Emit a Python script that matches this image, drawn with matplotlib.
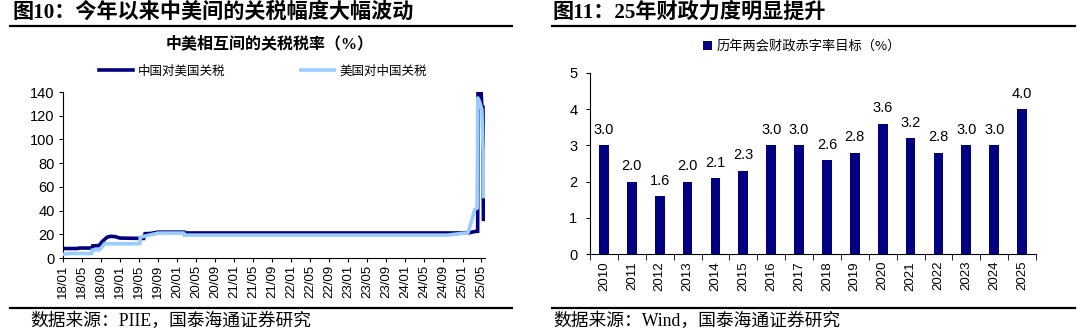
import matplotlib.pyplot as plt
import matplotlib.dates as mdates
import pandas as pd
from matplotlib.lines import Line2D

# 中国对美国关税 (dates, %)
CN_ON_US_DATES = [
    "2018-01-01", "2018-04-01", "2018-04-15", "2018-06-25", "2018-07-05",
    "2018-07-10", "2018-08-20", "2018-09-10", "2018-10-10", "2018-11-01",
    "2018-12-01", "2019-01-01", "2019-06-01", "2019-06-10", "2019-07-15",
    "2019-09-01", "2020-02-14", "2020-02-15", "2025-02-01", "2025-02-10",
    "2025-03-10", "2025-04-03", "2025-04-08", "2025-04-10", "2025-04-30",
    "2025-05-05", "2025-05-12", "2025-05-14", "2025-05-15",
]
CN_ON_US = [
    8.0, 8.0, 8.4, 8.4, 7.8,
    10.2, 10.5, 14.0, 17.5, 18.3,
    18.0, 16.8, 16.5, 20.5, 20.7,
    21.8, 21.8, 21.1, 21.1, 21.2,
    22.0, 22.6, 22.6, 140.0, 140.0,
    127.0, 127.0, 50.0, 32.6,
]

# 美国对中国关税 (dates, %)
US_ON_CN_DATES = [
    "2018-01-01", "2018-02-07", "2018-07-05", "2018-07-06", "2018-08-23",
    "2018-09-24", "2019-05-09", "2019-05-10", "2019-09-01", "2020-02-13",
    "2020-02-14", "2024-09-27", "2025-01-01", "2025-02-04", "2025-02-25",
    "2025-03-04", "2025-03-20", "2025-04-05", "2025-04-09", "2025-04-20",
    "2025-05-05", "2025-05-13", "2025-05-15",
]
US_ON_CN = [
    3.1, 3.8, 3.8, 6.7, 6.9,
    12.0, 12.0, 17.5, 21.0, 21.0,
    19.3, 19.3, 20.8, 21.0, 30.0,
    33.0, 41.0, 42.0, 135.0, 132.0,
    125.0, 90.0, 51.8,
]

# 历年两会财政赤字率目标 (%)
YEARS = [str(y) for y in range(2010, 2026)]
DEFICIT = [3.0, 2.0, 1.6, 2.0, 2.1, 2.3, 3.0, 3.0, 2.6, 2.8, 3.6, 3.2, 2.8, 3.0, 3.0, 4.0]

NAVY = "#000080"
LIGHT = "#99CCFF"
SERIF_CJK = ["Liberation Serif", "Noto Sans CJK SC"]

plt.rcParams["font.family"] = ["Liberation Sans", "Noto Sans CJK SC", "DejaVu Sans"]
plt.rcParams["axes.unicode_minus"] = False

fig = plt.figure(figsize=(10.8, 3.36), dpi=100)
W, H = 1080, 336


def fx(px):
    return px / W


def fy(py):
    return 1 - py / H


def rule(x0, x1, y):
    fig.add_artist(Line2D([fx(x0), fx(x1)], [fy(y), fy(y)], color="black", lw=1.6,
                          transform=fig.transFigure))


# panel headers and footers
fig.text(fx(12), fy(13), "图10：今年以来中美间的关税幅度大幅波动", family=SERIF_CJK,
         fontsize=15.2, fontweight="bold", va="center", ha="left")
fig.text(fx(553), fy(13), "图11：25年财政力度明显提升", family=SERIF_CJK,
         fontsize=15.2, fontweight="bold", va="center", ha="left")
rule(10, 512, 26)
rule(552, 1075, 26)
rule(10, 512, 308)
rule(552, 1075, 308)
fig.text(fx(30), fy(321), "数据来源：PIIE，国泰海通证券研究", family=SERIF_CJK,
         fontsize=12.8, va="center", ha="left")
fig.text(fx(553), fy(321), "数据来源：Wind，国泰海通证券研究", family=SERIF_CJK,
         fontsize=12.8, va="center", ha="left")

# ---- left: tariff lines ----
ax1 = fig.add_axes([fx(63), fy(258), fx(485) - fx(63), fy(92) - fy(258)])
d1 = pd.to_datetime(CN_ON_US_DATES)
d2 = pd.to_datetime(US_ON_CN_DATES)
ax1.plot(d1, CN_ON_US, color=NAVY, lw=2.6, label="中国对美国关税", zorder=2,
         solid_joinstyle="miter")
ax1.plot(d2, US_ON_CN, color=LIGHT, lw=2.6, label="美国对中国关税", zorder=3)
ax1.set_ylim(0, 140)
ax1.set_yticks(range(0, 141, 20))
ax1.set_xlim(pd.Timestamp("2018-01-01"), pd.Timestamp("2025-05-25"))
ax1.xaxis.set_major_locator(mdates.MonthLocator(bymonth=(1, 5, 9)))
ax1.xaxis.set_major_formatter(mdates.DateFormatter("%y/%m"))
ax1.tick_params(axis="x", labelrotation=90, labelsize=9.5, length=3, pad=2)
ax1.tick_params(axis="y", labelsize=10.5, length=3, pad=3)
for s in ("top", "right"):
    ax1.spines[s].set_visible(False)
fig.text(fx(270), fy(44), "中美相互间的关税税率（%）", family=SERIF_CJK, fontsize=11.5,
         fontweight="bold", ha="center", va="center")
ax1.legend(loc="center", bbox_to_anchor=(0.474, 1.127), ncol=2, frameon=False,
           handlelength=2.7, columnspacing=6, handletextpad=0.4,
           prop={"family": ["Noto Sans CJK SC"], "size": 9})

# ---- right: deficit bars ----
ax2 = fig.add_axes([fx(590), fy(254), fx(1036) - fx(590), fy(73) - fy(254)])
xs = range(len(YEARS))
ax2.bar(xs, DEFICIT, width=0.35, color=NAVY, label="历年两会财政赤字率目标（%）")
for x, v in zip(xs, DEFICIT):
    ax2.annotate(f"{v:.1f}", (x, v), xytext=(0, 6), textcoords="offset points",
                 ha="center", va="bottom", fontsize=10.5)
ax2.set_xlim(-0.5, len(YEARS) - 0.5)
ax2.set_ylim(0, 5)
ax2.set_yticks(range(0, 6))
ax2.set_xticks(list(xs))
ax2.set_xticklabels(YEARS, rotation=90)
ax2.set_xticks([i - 0.5 for i in range(len(YEARS) + 1)], minor=True)
ax2.tick_params(axis="x", which="major", length=0, labelsize=9.5, pad=5)
ax2.tick_params(axis="x", which="minor", length=4)
ax2.tick_params(axis="y", labelsize=10.5, length=3, pad=6)
for s in ("top", "right"):
    ax2.spines[s].set_visible(False)
ax2.legend(loc="center", bbox_to_anchor=(0.475, 1.144), frameon=False,
           handlelength=0.7, handleheight=0.7, handletextpad=0.3,
           prop={"family": ["Noto Sans CJK SC"], "size": 9.5})

fig.savefig("out.png", dpi=100)
